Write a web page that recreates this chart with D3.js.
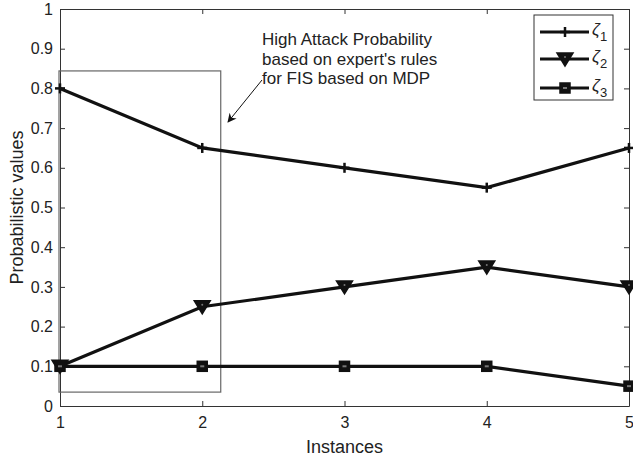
<!DOCTYPE html>
<html>
<head>
<meta charset="utf-8">
<script src="https://cdn.jsdelivr.net/npm/d3@7"></script>
<style>
  html, body { margin: 0; padding: 0; background: #fff; }
  svg { display: block; font-family: "Liberation Sans", Arial, Helvetica, sans-serif; }
</style>
</head>
<body>
<svg id="chart" width="633" height="457"></svg>
<script>
// Instances on the x axis and probability values for each risk level
const instances = [1, 2, 3, 4, 5];
const zeta1 = [0.8, 0.65, 0.6, 0.55, 0.65];
const zeta2 = [0.1, 0.25, 0.3, 0.35, 0.3];
const zeta3 = [0.1, 0.1, 0.1, 0.1, 0.05];
const seriesNames = ["1", "2", "3"];
const yTicks = [0, 0.1, 0.2, 0.3, 0.4, 0.5, 0.6, 0.7, 0.8, 0.9, 1];
const xTicks = [1, 2, 3, 4, 5];
// Highlighted region (data units) and its note
const boxX = [1, 2.13];
const boxY = [0.035, 0.844];
const noteLines = ["High Attack Probability", "based on expert's rules", "for FIS based on MDP"];

const svg = d3.select("#chart");
const m = { left: 60, right: 4, top: 9, bottom: 51 };
const W = 633, H = 457;
const x = d3.scaleLinear().domain([1, 5]).range([m.left, W - m.right]);
const y = d3.scaleLinear().domain([0, 1]).range([H - m.bottom, m.top]);

const axisColor = "#333";
const fs = 16;

// Axes box with inward ticks on all four sides
const gx = svg.append("g").attr("transform", `translate(0,${y(0)})`)
  .call(d3.axisBottom(x).tickValues(xTicks).tickSizeInner(-5).tickSizeOuter(0).tickPadding(11).tickFormat(d3.format("d")));
const gxTop = svg.append("g").attr("transform", `translate(0,${y(1)})`)
  .call(d3.axisTop(x).tickValues(xTicks).tickSizeInner(-5).tickSizeOuter(0).tickFormat(""));
const gy = svg.append("g").attr("transform", `translate(${x(1)},0)`)
  .call(d3.axisLeft(y).tickValues(yTicks).tickSizeInner(-5).tickSizeOuter(0).tickPadding(7).tickFormat(d => d === 0 || d === 1 ? d3.format("d")(d) : d3.format(".1f")(d)));
const gyRight = svg.append("g").attr("transform", `translate(${x(5)},0)`)
  .call(d3.axisRight(y).tickValues(yTicks).tickSizeInner(-5).tickSizeOuter(0).tickFormat(""));

[gx, gxTop, gy, gyRight].forEach(g => {
  g.selectAll("path.domain").attr("stroke", axisColor).attr("stroke-width", 1);
  g.selectAll(".tick line").attr("stroke", axisColor).attr("stroke-width", 1);
  g.selectAll(".tick text").attr("fill", "#222").style("font-size", fs + "px").style("font-family", "Liberation Sans, Arial, sans-serif");
});

// Axis titles
svg.append("text").attr("x", (x(1) + x(5)) / 2).attr("y", 453).attr("text-anchor", "middle")
  .attr("fill", "#222").style("font-size", "18px").text("Instances");
svg.append("text").attr("transform", `translate(23,${(y(0) + y(1)) / 2}) rotate(-90)`)
  .attr("text-anchor", "middle").attr("fill", "#222").style("font-size", "18px").text("Probabilistic values");

// Highlight rectangle
svg.append("rect")
  .attr("x", x(boxX[0]) - 1).attr("y", y(boxY[1]))
  .attr("width", x(boxX[1]) - x(boxX[0]) + 1).attr("height", y(boxY[0]) - y(boxY[1]))
  .attr("fill", "none").attr("stroke", "#666").attr("stroke-width", 1.2);

// Series lines
const line = d3.line().x((d, i) => x(instances[i])).y(d => y(d));
const allSeries = [zeta1, zeta2, zeta3];
allSeries.forEach(s => {
  svg.append("path").datum(s).attr("d", line)
    .attr("fill", "none").attr("stroke", "#111").attr("stroke-width", 3.2);
});

// Marker shapes
function plusMarker(g, cx, cy) {
  g.append("line").attr("x1", cx).attr("x2", cx).attr("y1", cy - 5).attr("y2", cy + 5)
    .attr("stroke", "#111").attr("stroke-width", 2.5);
  g.append("line").attr("x1", cx - 5).attr("x2", cx + 5).attr("y1", cy).attr("y2", cy)
    .attr("stroke", "#111").attr("stroke-width", 2.5);
}
function triMarker(g, cx, cy) {
  g.append("path").attr("d", `M${cx - 8},${cy - 6} L${cx + 8},${cy - 6} L${cx},${cy + 7} Z`)
    .attr("fill", "#111").attr("stroke", "#111").attr("stroke-width", 1.5);
  g.append("circle").attr("cx", cx).attr("cy", cy - 2).attr("r", 1).attr("fill", "#777");
}
function sqMarker(g, cx, cy) {
  g.append("rect").attr("x", cx - 5).attr("y", cy - 5).attr("width", 10).attr("height", 10)
    .attr("fill", "#111").attr("stroke", "#111").attr("stroke-width", 1.5);
  g.append("rect").attr("x", cx - 2).attr("y", cy - 1).attr("width", 4).attr("height", 2).attr("fill", "#777");
}
const markers = [plusMarker, triMarker, sqMarker];
const mg = svg.append("g");
allSeries.forEach((s, k) => {
  s.forEach((v, i) => markers[k](mg, x(instances[i]), y(v)));
});

// Legend
const lg = svg.append("g");
lg.append("rect").attr("x", 534).attr("y", 15).attr("width", 79).attr("height", 85)
  .attr("fill", "#fff").attr("stroke", "#333").attr("stroke-width", 1);
const legY = [32, 59, 88];
seriesNames.forEach((n, k) => {
  lg.append("line").attr("x1", 540).attr("x2", 589).attr("y1", legY[k]).attr("y2", legY[k])
    .attr("stroke", "#111").attr("stroke-width", 3.2);
  markers[k](lg, 565, legY[k]);
  const t = lg.append("text").attr("x", 592).attr("y", legY[k] + 3).attr("fill", "#222")
    .style("font-size", "17px");
  t.append("tspan").style("font-style", "italic").text("\u03B6");
  t.append("tspan").attr("dy", 6).style("font-size", "13px").text(n);
});

// Annotation text and arrow
svg.append("defs").append("marker").attr("id", "arrowhead")
  .attr("viewBox", "0 0 10 10").attr("refX", 9).attr("refY", 5)
  .attr("markerWidth", 12).attr("markerHeight", 9).attr("markerUnits", "userSpaceOnUse")
  .attr("orient", "auto")
  .append("path").attr("d", "M0,0 L10,5 L0,10 L3,5 Z").attr("fill", "#111");
svg.append("line").attr("x1", 262).attr("y1", 80).attr("x2", 228).attr("y2", 122)
  .attr("stroke", "#111").attr("stroke-width", 1).attr("marker-end", "url(#arrowhead)");
noteLines.forEach((t, i) => {
  svg.append("text").attr("x", 262).attr("y", 45 + i * 19.5).attr("fill", "#222")
    .style("font-size", "17px").text(t);
});
</script>
</body>
</html>
